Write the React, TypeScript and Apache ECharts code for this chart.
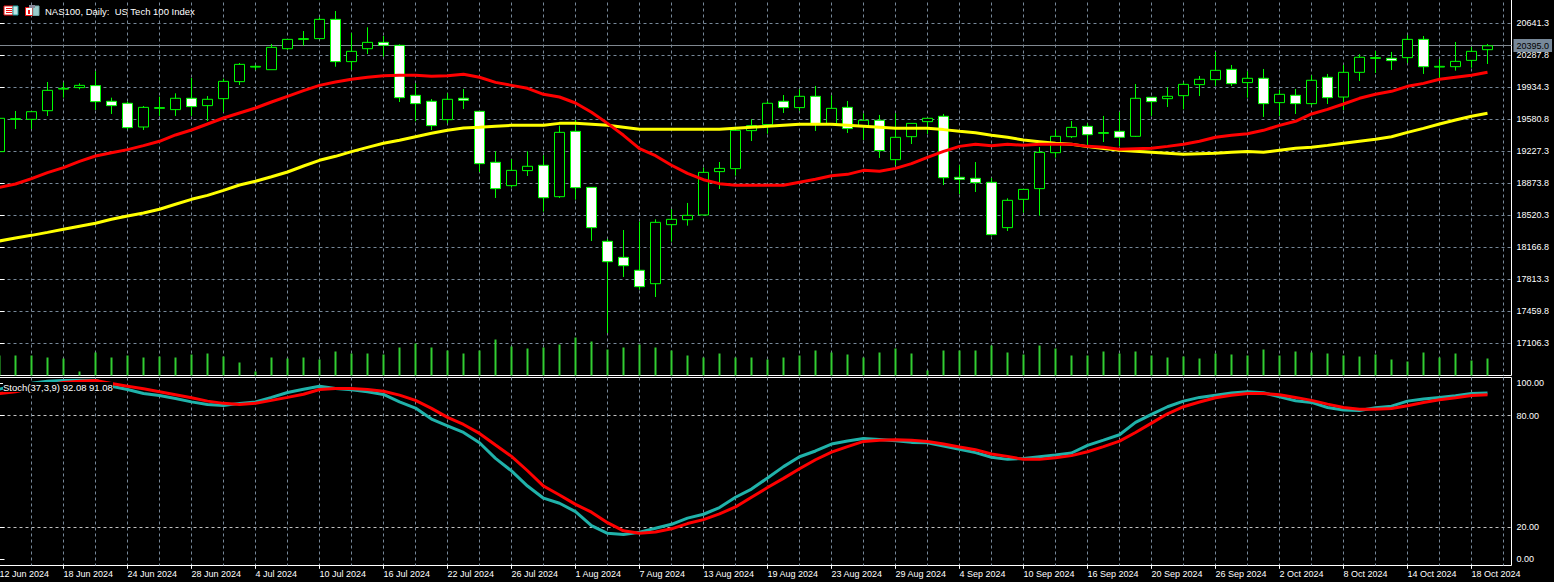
import React, { useEffect, useRef } from "react";
import * as echarts from "echarts";

const opens = [19226,19582,19583,19678,19917,19933,19955,19782,19760,19498,19704,19690,19815,19734,19811,19999,20160,20131,20363,20466,20474,20687,20220,20363,20433,20400,19848,19782,19579,19815,19671,19108,18850,19016,19075,18728,19450,18831,18235,18058,17915,17767,18419,18474,18526,19005,19038,19458,19524,19782,19712,19837,19535,19715,19509,19572,19137,19391,19557,19616,18942,18931,18887,18386,18699,18817,19214,19391,19505,19428,19450,19395,19826,19811,19844,19966,20021,20135,19988,20036,19767,19848,19756,20047,19829,20102,20256,20257,20264,20466,20160,20164,20234,20352];
const closes = [19594,19590,19667,19903,19925,19958,19778,19734,19491,19715,19712,19815,19723,19804,20002,20190,20168,20378,20466,20474,20687,20220,20334,20433,20400,19822,19756,19513,19804,19793,19093,18817,19019,19064,18717,19439,18828,18386,18010,17966,17734,18445,18478,18522,18997,19041,19461,19513,19760,19712,19837,19535,19704,19480,19572,19237,19384,19538,19594,18938,18920,18883,18309,18688,18809,19218,19395,19494,19413,19436,19384,19815,19778,19837,19969,20025,20124,19977,20036,19756,19859,19756,20014,19822,20102,20268,20264,20231,20466,20164,20168,20223,20334,20395];
const lows = [19226,19476,19476,19620,19822,19914,19686,19642,19472,19465,19620,19620,19620,19564,19664,19962,20128,20131,20349,20396,20474,20164,20128,20304,20275,19774,19561,19465,19538,19697,19001,18714,18828,18957,18563,18714,18695,18239,17222,17841,17701,17620,18231,18408,18526,18813,18960,19343,19424,19653,19678,19454,19531,19432,19354,19156,19078,19310,19421,18857,18758,18780,18298,18349,18552,18519,19159,19376,19299,19332,19288,19388,19620,19719,19693,19840,19951,19951,19822,19609,19620,19642,19737,19752,19686,20006,20095,20128,20205,20084,20028,20120,20153,20194];
const highs = [19594,19675,19667,19995,19991,19980,20113,19822,19778,19730,19833,19870,20039,19840,20032,20205,20183,20415,20466,20558,20710,20779,20536,20599,20503,20411,19980,19807,19870,19918,19671,19229,19144,19229,19185,19513,19575,18831,18261,18360,18452,18478,18589,18659,19049,19111,19502,19583,19782,19851,19914,19951,19848,19785,19649,19631,19649,19538,19594,19642,19075,19111,18935,18710,18809,19277,19465,19564,19538,19620,19664,19973,19826,19936,19991,20061,20327,20183,20113,20139,19907,19918,20069,20084,20183,20301,20338,20327,20514,20503,20246,20437,20382,20415];
const volumes = [20,20,20,18,17,4,23,18,20,18,19,18,21,22,19,13,4,18,17,18,16,24,22,22,21,28,32,28,25,22,25,36,29,27,28,31,38,34,26,28,31,28,25,20,18,22,18,18,16,18,20,25,23,21,18,23,27,22,5,25,25,25,30,23,21,30,27,20,20,24,22,24,20,18,19,17,22,21,20,26,20,24,23,22,20,19,21,16,14,23,18,22,15,17];
const redMA = [18831,18868,18927,18994,19049,19119,19178,19214,19248,19292,19340,19410,19465,19531,19597,19653,19708,19774,19837,19899,19958,19995,20025,20047,20065,20069,20069,20058,20065,20080,20047,19991,19958,19925,19859,19829,19763,19660,19538,19406,19259,19181,19075,18986,18916,18872,18854,18854,18854,18854,18887,18920,18960,18975,19019,19008,19041,19093,19163,19229,19284,19307,19292,19307,19295,19307,19307,19307,19284,19273,19251,19259,19262,19284,19307,19340,19384,19406,19424,19461,19516,19561,19642,19693,19752,19815,19859,19892,19947,19980,20025,20047,20069,20102];
const yellowMA = [18239,18272,18301,18334,18368,18401,18434,18478,18515,18548,18589,18644,18699,18743,18798,18857,18898,18949,19001,19067,19130,19174,19226,19273,19318,19351,19391,19428,19461,19487,19494,19505,19516,19516,19516,19538,19538,19527,19516,19494,19472,19472,19472,19472,19472,19472,19483,19494,19505,19516,19527,19527,19527,19516,19505,19494,19483,19483,19483,19469,19450,19435,19406,19384,19354,19336,19318,19307,19281,19259,19240,19229,19218,19207,19196,19203,19207,19218,19226,19218,19240,19262,19273,19295,19318,19340,19362,19391,19439,19483,19531,19575,19616,19649];
const stochMain = [94.1,96.3,97.3,98.4,98.8,98.9,98.9,95.7,93.9,91.8,90.7,89.1,87.3,85.9,85.4,86.5,87.3,89.7,92.3,94.1,95.7,94.5,93.8,92.7,91.3,87.3,84,78.1,74.5,70.9,65.4,57,50.3,42.2,35.7,33,28.5,21,16.9,16.2,17.5,19.6,21.7,25,27.1,30.7,36.2,40.6,46.5,52.6,57.9,61,64.7,66.3,67.7,67.2,66.5,65.6,65.4,63.6,61.9,60.1,57.6,56.5,57,57.9,58.8,59.9,64,66.8,69.7,76.3,80.6,84.7,87.7,89.7,90.9,92,92.7,92.2,90,87.9,87,84.3,82.9,82.7,84.1,85,87.7,88.8,89.7,90.6,91.8,92.08];
const stochSignal = [91.8,92.7,94.5,96.3,97.7,98.4,98.8,97.1,95.7,94.3,92.7,91.1,89.5,87.7,86.5,85.9,86.6,88.1,89.7,91.4,93.9,94.5,94.5,93.9,93,90.9,88.1,83.8,79,75.2,70.4,64.2,58.1,50.4,42.2,37.4,32.4,28.2,22.6,18.2,16.9,17.6,19.3,22.1,24.2,27.3,31,36.2,41.4,46.3,51.5,56.3,60.4,63.3,66.1,66.7,67,66.7,66.1,64.7,63.1,61.7,59.4,58.1,56.5,56.5,57.4,58.5,60.6,63.3,66.3,70.9,75.9,80.9,84.7,87.2,89.5,90.9,91.8,91.8,91.1,89.7,88.1,86.1,84.3,83.4,83.4,83.8,85.2,87,88.4,89.5,90.7,91.08];
const priceTicks = [20641.3,20287.8,19934.3,19580.8,19227.3,18873.8,18520.3,18166.8,17813.3,17459.8,17106.3];
const stochLevels = [20, 80];
const stochEdgeLabels = ["0.00", "100.00"];
const dateLabels = ["12 Jun 2024","18 Jun 2024","24 Jun 2024","28 Jun 2024","4 Jul 2024","10 Jul 2024","16 Jul 2024","22 Jul 2024","26 Jul 2024","1 Aug 2024","7 Aug 2024","13 Aug 2024","19 Aug 2024","23 Aug 2024","29 Aug 2024","4 Sep 2024","10 Sep 2024","16 Sep 2024","20 Sep 2024","26 Sep 2024","2 Oct 2024","8 Oct 2024","14 Oct 2024","18 Oct 2024"];
const lastPrice = 20395;
const lastPriceLineLevel = 20398;
const chartTitle = "NAS100, Daily:  US Tech 100 Index";
const stochTitle = "Stoch(37,3,9) 92.08 91.08";

const FONT = "Liberation Sans";
const FS = 9;
const GRID_COLOR = "#778899";
const DASH = [3, 3];

const indexed = (arr: number[]) => arr.map((v, i) => [i, v]);

export default function App() {
  const ref = useRef<HTMLDivElement>(null);
  useEffect(() => {
    document.body.style.margin = "0";
    document.body.style.background = "#000";
    document.documentElement.style.overflow = "hidden";
    const chart = echarts.init(ref.current!, null, { renderer: "svg" });
    const xBase = { type: "value", min: -4, max: 94.5 };
    const noAxisBits = { axisLine: { show: false }, axisTick: { show: false }, axisLabel: { show: false } };
    const vSplit = {
      show: true, showMinLine: false, showMaxLine: false,
      lineStyle: { color: GRID_COLOR, type: DASH, width: 1 },
    };
    chart.setOption({
      animation: false,
      backgroundColor: "#000",
      textStyle: { fontFamily: FONT, fontSize: FS },
      grid: [
        { left: -64.5, top: -3.5, width: 1576, height: 379, outerBoundsMode: "none", show: true, borderColor: "#fff", borderWidth: 1, backgroundColor: "transparent" },
        { left: -64.5, top: 377.5, width: 1576, height: 188, outerBoundsMode: "none", show: true, borderColor: "#fff", borderWidth: 1, backgroundColor: "transparent" },
      ],
      xAxis: [
        { ...xBase, gridIndex: 0, interval: 2, ...noAxisBits, splitLine: vSplit },
        { ...xBase, gridIndex: 1, interval: 2, ...noAxisBits, splitLine: vSplit },
        {
          ...xBase, gridIndex: 1, interval: 4, position: "bottom",
          axisLine: { show: false },
          axisTick: { show: true, length: 4, lineStyle: { color: "#fff" }, inside: false },
          splitLine: { show: false },
          axisLabel: {
            show: true, color: "#fff", fontFamily: FONT, fontSize: FS, align: "left", margin: 4,
            showMinLabel: false, showMaxLabel: false, hideOverlap: false,
            formatter: (v: number) => (v % 4 === 0 ? dateLabels[v / 4] ?? "" : ""),
          },
        },
      ],
      yAxis: [
        {
          type: "value", gridIndex: 0, position: "right", min: 16752.8, max: 20939.5, scale: true,
          axisLine: { show: false },
          axisTick: { show: true, length: 5, customValues: priceTicks, lineStyle: { color: "#fff" } },
          axisLabel: {
            show: true, customValues: priceTicks, color: "#fff", fontFamily: FONT, fontSize: FS, margin: 5,
            formatter: (v: number) => v.toFixed(1),
          },
          splitLine: { show: true, lineStyle: { color: GRID_COLOR, type: DASH, width: 1 } },
        },
        { type: "value", gridIndex: 0, min: 0, max: 379, show: false, splitLine: { show: false } },
        {
          type: "value", gridIndex: 1, position: "right", min: -0.36, max: 100.36,
          axisLine: { show: false },
          axisTick: { show: true, length: 5, customValues: stochLevels, lineStyle: { color: "#fff" } },
          axisLabel: {
            show: true, customValues: stochLevels, color: "#fff", fontFamily: FONT, fontSize: FS, margin: 5,
            formatter: (v: number) => v.toFixed(2),
          },
          splitLine: { show: true, lineStyle: { color: "#c0c0c0", type: DASH, width: 1 } },
        },
        {
          type: "value", gridIndex: 1, position: "right", min: -0.36, max: 100.36,
          axisLine: { show: false },
          axisTick: { show: true, length: 5, customValues: [3, 97.5], lineStyle: { color: "#fff" } },
          axisLabel: {
            show: true, customValues: [3, 97.5], color: "#fff", fontFamily: FONT, fontSize: FS, margin: 5,
            formatter: (v: number) => (v < 50 ? stochEdgeLabels[0] : stochEdgeLabels[1]),
          },
          splitLine: { show: false },
        },
      ],
      series: [
        {
          type: "bar", name: "Volume", xAxisIndex: 0, yAxisIndex: 1, barWidth: 2, clip: false,
          itemStyle: { color: "#32CD32" }, data: indexed(volumes), z: 2,
        },
        {
          type: "candlestick", name: "NAS100", xAxisIndex: 0, yAxisIndex: 0, barWidth: 10, clip: false,
          encode: { x: 0, y: [1, 2, 3, 4] },
          itemStyle: { color: "#000", color0: "#fff", borderColor: "#00ff00", borderColor0: "#00ff00", borderWidth: 1 },
          data: opens.map((o, i) => [i, o, closes[i], lows[i], highs[i]]),
          z: 3,
          markLine: {
            silent: true, symbol: "none", animation: false, z: 1,
            lineStyle: { color: "#808890", type: "solid", width: 1 },
            label: {
              show: true, position: "end", distance: 2, formatter: () => lastPrice.toFixed(1),
              color: "#000", backgroundColor: GRID_COLOR, padding: [2, 3], fontFamily: FONT, fontSize: FS,
            },
            data: [{ yAxis: lastPriceLineLevel }],
          },
        },
        {
          type: "line", name: "MA slow", xAxisIndex: 0, yAxisIndex: 0, showSymbol: false, symbol: "none", z: 4,
          lineStyle: { color: "#ffff00", width: 3 }, data: indexed(yellowMA),
        },
        {
          type: "line", name: "MA fast", xAxisIndex: 0, yAxisIndex: 0, showSymbol: false, symbol: "none", z: 5,
          lineStyle: { color: "#ff0000", width: 3 }, data: indexed(redMA),
        },
        {
          type: "line", name: "Stoch main", xAxisIndex: 1, yAxisIndex: 2, showSymbol: false, symbol: "none", z: 4,
          lineStyle: { color: "#20B2AA", width: 3 }, data: indexed(stochMain),
        },
        {
          type: "line", name: "Stoch signal", xAxisIndex: 1, yAxisIndex: 2, showSymbol: false, symbol: "none", z: 5,
          lineStyle: { color: "#ff0000", width: 3 }, data: indexed(stochSignal),
        },
      ],
      graphic: [
        { type: "rect", z: 100, shape: { x: 4, y: 6, width: 9, height: 9 }, style: { fill: "#fff", stroke: "#e11", lineWidth: 1 } },
        { type: "rect", z: 100, shape: { x: 13, y: 6, width: 5, height: 9 }, style: { fill: "#bfe3e3", stroke: "#20a0a0", lineWidth: 1 } },
        { type: "rect", z: 101, shape: { x: 6, y: 8, width: 6, height: 1 }, style: { fill: "#e11" } },
        { type: "rect", z: 101, shape: { x: 6, y: 10, width: 6, height: 1 }, style: { fill: "#e11" } },
        { type: "rect", z: 101, shape: { x: 6, y: 12, width: 6, height: 1 }, style: { fill: "#e11" } },
        { type: "rect", z: 100, shape: { x: 25.5, y: 7.5, width: 7, height: 8 }, style: { fill: "#fff", stroke: "#e11", lineWidth: 1 } },
        { type: "rect", z: 100, shape: { x: 33, y: 6, width: 6, height: 9.5 }, style: { fill: "#9cc", stroke: "#7aa" , lineWidth: 1 } },
        { type: "rect", z: 101, shape: { x: 29, y: 5, width: 6, height: 3 }, style: { fill: "#889" } },
        { type: "rect", z: 101, shape: { x: 28, y: 10, width: 2, height: 4 }, style: { fill: "#e11" } },
        {
          type: "text", z: 102, x: 45, y: 6,
          style: { text: chartTitle, fill: "#fff", font: `${FS + 0.5}px "${FONT}"` },
        },
        { type: "rect", z: 100, shape: { x: 3, y: 382, width: 110, height: 10 }, style: { fill: "#000" } },
        {
          type: "text", z: 102, x: 3, y: 382.5,
          style: { text: stochTitle, fill: "#fff", font: `${FS + 0.5}px "${FONT}"` },
        },
      ],
    });
    return () => chart.dispose();
  }, []);
  return <div ref={ref} style={{ width: 1554, height: 582 }} />;
}
